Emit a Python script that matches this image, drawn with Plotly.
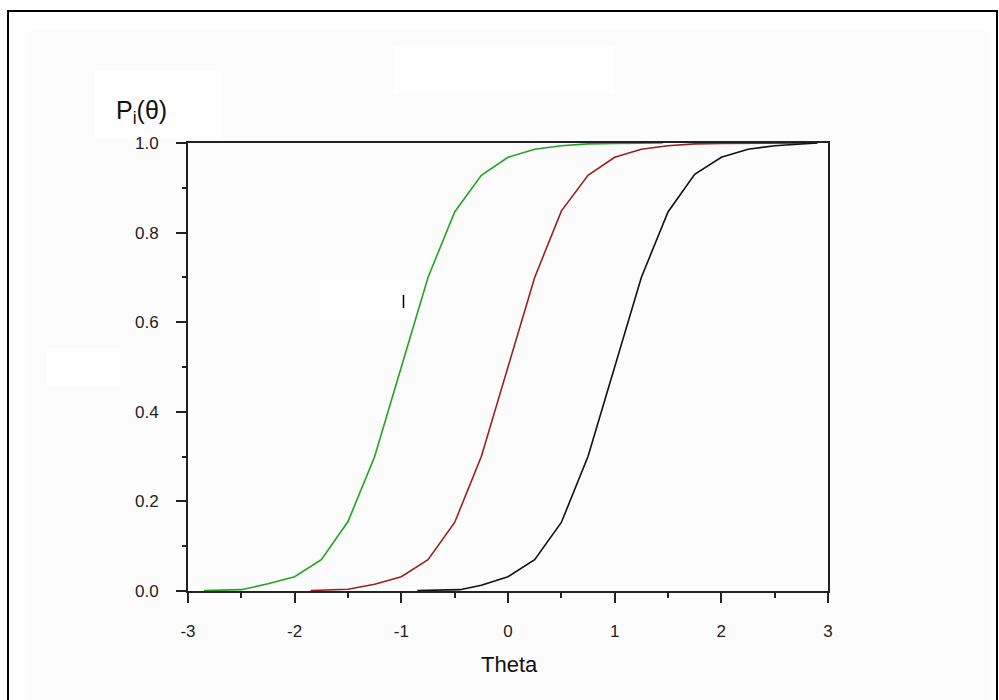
import plotly.graph_objects as go

# ---- data ----
theta_green = [-2.85, -2.5, -2.25, -2.0, -1.75, -1.5, -1.25, -1.0, -0.75, -0.5, -0.25, 0.0, 0.25, 0.5, 0.75, 1.0, 1.45]
p_green = [0.001, 0.003, 0.016, 0.032, 0.070, 0.155, 0.300, 0.500, 0.700, 0.846, 0.928, 0.968, 0.986, 0.994, 0.998, 0.999, 1.0]

theta_red = [-1.85, -1.5, -1.25, -1.0, -0.75, -0.5, -0.25, 0.0, 0.25, 0.5, 0.75, 1.0, 1.25, 1.5, 1.75, 2.0, 2.9]
p_red = [0.001, 0.004, 0.015, 0.032, 0.070, 0.153, 0.300, 0.500, 0.700, 0.848, 0.928, 0.968, 0.986, 0.994, 0.998, 0.999, 1.0]

theta_black = [-0.85, -0.45, -0.25, 0.0, 0.25, 0.5, 0.75, 1.0, 1.25, 1.5, 1.75, 2.0, 2.25, 2.5, 2.75, 2.9]
p_black = [0.001, 0.003, 0.013, 0.032, 0.070, 0.153, 0.300, 0.500, 0.700, 0.846, 0.930, 0.968, 0.986, 0.994, 0.998, 1.0]

x_tickvals = [-3, -2, -1, 0, 1, 2, 3]
x_ticktext = ["-3", "-2", "-1", "0", "1", "2", "3"]
y_tickvals = [0.0, 0.2, 0.4, 0.6, 0.8, 1.0]
y_ticktext = ["0.0", "0.2", "0.4", "0.6", "0.8", "1.0"]

# ---- layout geometry ----
W, H = 999, 700
L, R, T, B = 188, 171, 143, 109
PW, PH = W - L - R, H - T - B


def px(x):
    return (x - L) / PW


def py(y):
    return (H - B - y) / PH


FONT = "Liberation Sans"
TICKFONT = dict(family=FONT, size=17, color="#222222")

fig = go.Figure()
fig.add_trace(go.Scatter(x=theta_green, y=p_green, mode="lines",
                         line=dict(color="#23a323", width=1.6), cliponaxis=False))
fig.add_trace(go.Scatter(x=theta_red, y=p_red, mode="lines",
                         line=dict(color="#9b2020", width=1.6), cliponaxis=False))
fig.add_trace(go.Scatter(x=theta_black, y=p_black, mode="lines",
                         line=dict(color="#111111", width=1.6), cliponaxis=False))

shapes = [
    # very light grey panel
    dict(type="rect", xref="paper", yref="paper", x0=px(28), x1=px(988), y0=py(30), y1=py(702),
         fillcolor="#fcfcfc", line=dict(width=0), layer="below"),
    # white boxes
    dict(type="rect", xref="paper", yref="paper", x0=px(95), x1=px(221), y0=py(71), y1=py(138),
         fillcolor="#ffffff", line=dict(width=0), layer="below"),
    dict(type="rect", xref="paper", yref="paper", x0=px(393), x1=px(615), y0=py(45), y1=py(95),
         fillcolor="#ffffff", line=dict(width=0), layer="below"),
    dict(type="rect", xref="paper", yref="paper", x0=px(320), x1=px(430), y0=py(280), y1=py(320),
         fillcolor="#ffffff", line=dict(width=0), layer="below"),
    dict(type="rect", xref="paper", yref="paper", x0=px(47), x1=px(120), y0=py(348), y1=py(386),
         fillcolor="#ffffff", line=dict(width=0), layer="below"),
    # outer frame
    dict(type="rect", xref="paper", yref="paper", x0=px(8), x1=px(997), y0=py(11), y1=py(710),
         fillcolor="rgba(0,0,0,0)", line=dict(color="#000000", width=2), layer="above"),
    # small vertical mark
    dict(type="line", xref="paper", yref="paper", x0=px(403.5), x1=px(403.5), y0=py(295), y1=py(308),
         line=dict(color="#000000", width=1.5), layer="above"),
]

annotations = [
    dict(xref="paper", yref="paper", x=px(141), y=py(112), text="P<sub>i</sub>(θ)", showarrow=False,
         xanchor="center", yanchor="middle", font=dict(family=FONT, size=25, color="#111111")),
    dict(xref="paper", yref="paper", x=px(509), y=py(664), text="Theta", showarrow=False,
         xanchor="center", yanchor="middle", font=dict(family=FONT, size=22, color="#111111")),
]

fig.update_layout(
    width=W, height=H,
    margin=dict(l=L, r=R, t=T, b=B, pad=0),
    paper_bgcolor="#ffffff",
    plot_bgcolor="rgba(0,0,0,0)",
    showlegend=False,
    shapes=shapes,
    annotations=annotations,
    font=dict(family=FONT, size=17, color="#222222"),
)

fig.update_xaxes(
    range=[-3, 3], tickmode="array", tickvals=x_tickvals, ticktext=x_ticktext,
    showgrid=False, zeroline=False, showline=True, linecolor="#222222", linewidth=2,
    mirror=True, ticks="outside", ticklen=10, tickwidth=1.5, tickcolor="#222222",
    minor=dict(dtick=0.5, tick0=-3, ticks="outside", ticklen=5, tickwidth=1.5, tickcolor="#222222", showgrid=False),
    ticklabelstandoff=14, layer="below traces",
    tickfont=TICKFONT,
)
fig.update_yaxes(
    range=[0, 1], tickmode="array", tickvals=y_tickvals, ticktext=y_ticktext,
    showgrid=False, zeroline=False, showline=True, linecolor="#222222", linewidth=2,
    mirror=True, ticks="outside", ticklen=10, tickwidth=1.5, tickcolor="#222222",
    minor=dict(dtick=0.1, tick0=0, ticks="outside", ticklen=4, tickwidth=1.5, tickcolor="#222222", showgrid=False),
    ticklabelstandoff=14, layer="below traces",
    tickfont=TICKFONT,
)

fig.write_html("out.html")
